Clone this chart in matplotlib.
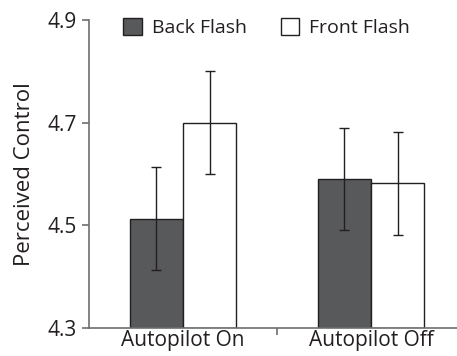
import matplotlib
matplotlib.use("Agg")
import matplotlib.pyplot as plt
import numpy as np

categories = ["Autopilot On", "Autopilot Off"]
series_names = ["Back Flash", "Front Flash"]
back_vals = [4.513, 4.590]
front_vals = [4.700, 4.582]
back_err = [0.100, 0.100]
front_err = [0.100, 0.100]
yticks = [4.3, 4.5, 4.7, 4.9]

plt.rcParams['font.family'] = ['Open Sans', 'DejaVu Sans']

fig = plt.figure(figsize=(4.57, 3.56), dpi=100)
ax = fig.add_axes([89/457, (356-328)/356, (465-89)/457, (328-20)/356])

x = np.arange(len(categories))
w = 0.284
ax.bar(x - w/2, np.array(back_vals) - 4.3, w, bottom=4.3, color='#58595b',
       edgecolor='#231f20', linewidth=1.0, label=series_names[0], zorder=2)
ax.bar(x + w/2, np.array(front_vals) - 4.3, w, bottom=4.3, color='white',
       edgecolor='#231f20', linewidth=1.0, label=series_names[1], zorder=2)
ax.errorbar(x - w/2, back_vals, yerr=back_err, fmt='none', ecolor='#231f20',
            elinewidth=1.0, capsize=3.6, capthick=1.0, zorder=3)
ax.errorbar(x + w/2, front_vals, yerr=front_err, fmt='none', ecolor='#231f20',
            elinewidth=1.0, capsize=3.6, capthick=1.0, zorder=3)

ax.set_xlim(-0.5, 1.5)
ax.set_ylim(4.3, 4.9)
ax.set_yticks(yticks)
ax.set_yticklabels([f"{v:.1f}" for v in yticks], fontsize=15, color='#231f20')
ax.set_xticks([0.5])
ax.set_xticklabels([""])
ax.tick_params(axis='x', length=5, color='#6d6e71', width=1.2)
ax.tick_params(axis='y', length=5, color='#6d6e71', width=1.2, pad=4)
for i, c in enumerate(categories):
    ax.text(x[i], -0.005, c, transform=ax.get_xaxis_transform(), ha='center', va='top',
            fontsize=15, color='#231f20')

for s in ['top', 'right']:
    ax.spines[s].set_visible(False)
for s in ['left', 'bottom']:
    ax.spines[s].set_color('#6d6e71')
    ax.spines[s].set_linewidth(1.2)

ax.set_ylabel("Perceived Control", fontsize=16, color='#231f20', labelpad=9)

leg = ax.legend(loc='upper left', bbox_to_anchor=(0.045, 1.062), ncol=2, frameon=False,
                fontsize=14, handlelength=0.95, handleheight=0.95, handletextpad=0.5,
                columnspacing=1.75, labelcolor='#231f20')

fig.savefig("out.png", dpi=100)
